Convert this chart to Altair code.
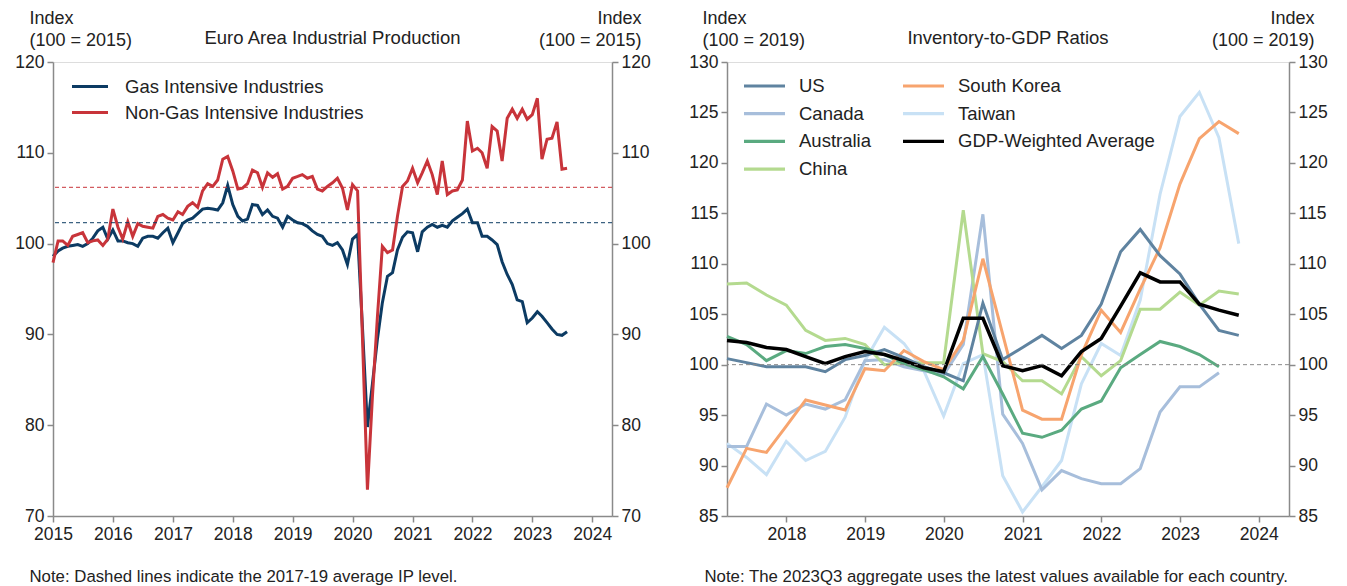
import altair as alt
import pandas as pd

FONT = "Liberation Sans"

# ---------------- Left panel data (monthly) ----------------
months = pd.date_range("2015-01-01", "2023-08-01", freq="MS")
GAS = "Gas Intensive Industries"
NONGAS = "Non-Gas Intensive Industries"
gas = [98.6, 99.2, 99.5, 99.7, 99.8, 99.9, 99.7, 100.0, 100.6, 101.4, 101.8, 100.5,
       101.5, 100.3, 100.3, 100.1, 100.0, 99.7, 100.6, 100.8, 100.8, 100.6, 101.2, 101.7,
       100.1, 101.2, 102.2, 102.6, 102.8, 103.3, 103.8, 103.9, 103.8, 103.7, 104.5, 106.4,
       104.3, 103.0, 102.5, 102.7, 104.3, 104.2, 103.2, 103.7, 103.0, 102.8, 101.8, 103.0,
       102.6, 102.3, 102.2, 101.9, 101.4, 101.0, 100.8, 100.0, 99.8, 100.1, 99.3, 97.7,
       100.5, 101.0, 91.0, 79.8, 84.5, 89.5, 93.5, 96.4, 96.8, 99.3, 100.7, 101.3,
       101.2, 99.1, 101.3, 101.8, 102.1, 101.8, 102.0, 101.8, 102.5, 102.9, 103.3, 103.8,
       102.3, 102.3, 100.8, 100.8, 100.4, 99.9, 98.0, 96.6, 95.5, 93.8, 93.6, 91.3,
       91.8, 92.5, 92.0, 91.3, 90.6, 90.0, 89.9, 90.3]
nongas = [97.9, 100.3, 100.3, 99.8, 100.8, 101.0, 101.2, 100.1, 100.3, 100.4, 99.8, 100.5,
          103.8, 101.8, 100.5, 102.4, 100.8, 102.2, 101.9, 101.8, 101.7, 103.0, 103.2, 102.8,
          102.6, 103.5, 103.2, 104.1, 104.5, 104.0, 105.8, 106.6, 106.3, 107.0, 109.3, 109.6,
          108.0, 106.0, 106.1, 106.6, 108.1, 107.8, 106.2, 107.8, 107.3, 107.7, 106.0, 106.3,
          107.2, 107.4, 107.6, 107.2, 107.4, 106.0, 105.8, 106.3, 106.7, 107.2, 106.1, 103.7,
          106.5, 105.8, 90.0, 72.9, 83.0, 92.0, 99.7, 99.0, 99.3, 103.0, 106.3, 106.9,
          108.3, 106.7, 107.8, 109.1, 107.6, 105.4, 109.1, 105.4, 105.8, 105.9, 107.0, 113.5,
          110.2, 110.5, 110.0, 108.3, 112.9, 112.4, 109.1, 113.8, 114.8, 113.8, 114.8, 113.7,
          114.2, 116.0, 109.3, 111.5, 111.6, 113.4, 108.2, 108.3]
avg_levels = [102.3, 106.2]  # 2017-19 averages (gas, non-gas)

# ---------------- Right panel data (quarterly) ----------------
qend = ["03-31", "06-30", "09-30", "12-31"]
quarters = [f"{y}-{q}" for y in range(2017, 2024) for q in qend][:27]
series_names = ["US", "Canada", "Australia", "China", "South Korea", "Taiwan",
                "GDP-Weighted Average"]
us = [100.6, 100.2, 99.8, 99.8, 99.8, 99.3, 100.5, 100.9, 101.5, 100.7, 99.8, 99.2, 98.4,
      106.1, 100.5, 101.7, 102.9, 101.6, 102.9, 106.0, 111.2, 113.4, 110.8, 109.0, 106.0,
      103.4, 102.9]
canada = [91.9, 91.9, 96.1, 95.0, 96.1, 95.6, 96.5, 100.4, 100.5, 99.8, 99.4, 99.0, 102.0,
          114.9, 95.1, 92.2, 87.6, 89.5, 88.7, 88.2, 88.2, 89.7, 95.3, 97.8, 97.8, 99.2]
australia = [102.8, 102.0, 100.4, 101.4, 101.1, 101.8, 102.0, 101.6, 101.0, 100.1, 99.5,
             98.8, 97.6, 100.8, 97.1, 93.2, 92.8, 93.5, 95.6, 96.4, 99.7, 101.0, 102.3,
             101.8, 101.0, 99.8]
china = [108.0, 108.1, 106.9, 105.9, 103.4, 102.4, 102.6, 102.0, 100.0, 100.2, 100.2, 100.2,
         115.3, 101.1, 100.3, 98.4, 98.4, 97.1, 100.8, 98.9, 100.4, 105.5, 105.5, 107.2,
         105.9, 107.3, 107.0]
korea = [87.8, 91.7, 91.3, 93.9, 96.5, 96.0, 95.5, 99.6, 99.4, 101.4, 100.3, 99.5, 102.4,
         110.5, 103.0, 95.5, 94.6, 94.6, 101.0, 105.4, 103.2, 107.5, 111.6, 117.9, 122.4,
         124.1, 122.9]
taiwan = [92.2, 90.8, 89.1, 92.4, 90.5, 91.4, 94.8, 100.4, 103.7, 102.1, 99.4, 94.9, 100.1,
          101.0, 89.0, 85.4, 87.9, 90.5, 98.1, 102.1, 100.9, 106.4, 116.9, 124.6, 127.0,
          122.5, 112.0]
gdp_avg = [102.4, 102.2, 101.7, 101.5, 100.8, 100.1, 100.8, 101.3, 101.0, 100.4, 99.7, 99.3,
           104.6, 104.6, 99.9, 99.4, 99.9, 98.9, 101.3, 102.6, 105.8, 109.1, 108.2, 108.2,
           106.0, 105.4, 104.9]

NAVY = "#0c3b63"
RED = "#c8343a"
right_colors = {"US": "#5f83a0", "South Korea": "#f7a46e", "Canada": "#a7bedb",
                "Taiwan": "#c8e1f5", "Australia": "#5aaa80",
                "GDP-Weighted Average": "#000000", "China": "#b4da8f"}

AX = dict(domainColor="#8a8a8a", domainWidth=1.5, tickColor="#8a8a8a", tickWidth=1.5,
          tickSize=6, labelFont=FONT, labelFontSize=17.5, labelColor="#222222", grid=False,
          labelPadding=3, labelFlush=False, titleFont=FONT,
          titleFontWeight="normal", titleColor="#222222", titleAngle=0, titleLineHeight=22)


def y_axis(orient, values, title, tx):
    return alt.Axis(orient=orient, values=values, title=title,
                    titleAlign=("left" if orient == "left" else "right"),
                    titleBaseline="top", titleX=tx, titleY=-53, titleFontSize=18, **AX)


def x_axis(years, note, tx):
    return alt.Axis(values=[alt.DateTime(year=y, month=1, date=1) for y in years], format="%Y",
                    title=note, titleAlign="left", titleAnchor="start", titleBaseline="top",
                    titleX=tx, titleY=52, titleFontSize=16.8, **AX)


def legend(x, y, size, offset, rowpad, **extra):
    return alt.Legend(orient="none", legendX=x, legendY=y, title=None, symbolType="stroke",
                      symbolSize=size * size, symbolStrokeWidth=3.2, labelFont=FONT,
                      labelFontSize=18.5, labelColor="#222222", labelOffset=offset,
                      labelLimit=500, clipHeight=20, rowPadding=rowpad, padding=0, **extra)


# ---------------- Left panel ----------------
ldf = pd.DataFrame({
    "date": list(months) + list(months),
    "value": gas + nongas,
    "series": [GAS] * len(gas) + [NONGAS] * len(nongas),
})
lrules = pd.DataFrame({"value": avg_levels, "color": [NAVY, RED]})

lx = alt.X("date:T", scale=alt.Scale(domain=[alt.DateTime(year=2015, month=1, date=1),
                                             alt.DateTime(year=2024, month=5, date=1)]),
           axis=x_axis(range(2015, 2025), "Note: Dashed lines indicate the 2017-19 average IP level.", -24))
lscale = alt.Scale(domain=[70, 120], nice=False, zero=False)

left_lines = alt.Chart(ldf).mark_line(strokeWidth=3).encode(
    x=lx,
    y=alt.Y("value:Q", scale=lscale,
            axis=y_axis("left", list(range(70, 121, 10)), ["Index", "(100 = 2015)"], -24)),
    color=alt.Color("series:N", scale=alt.Scale(domain=[GAS, NONGAS], range=[NAVY, RED]),
                    legend=legend(17, 14.5, 36, 15, 6)),
)
left_rules = alt.Chart(lrules).mark_rule(strokeWidth=1, strokeDash=[4, 3]).encode(
    y=alt.Y("value:Q", scale=lscale,
            axis=y_axis("right", list(range(70, 121, 10)), ["Index", "(100 = 2015)"], 29)),
    color=alt.Color("color:N", scale=None, legend=None),
)
left = alt.layer(left_lines, left_rules).resolve_scale(y="independent", color="independent").properties(
    width=559, height=454,
    title=alt.TitleParams("Euro Area Industrial Production", font=FONT, fontSize=18.5,
                          fontWeight="normal", color="#222222", anchor="middle", offset=-38),
)

# ---------------- Right panel ----------------
rows = []
for name, vals in [("Taiwan", taiwan), ("Canada", canada), ("China", china), ("Australia", australia),
                   ("South Korea", korea), ("US", us), ("GDP-Weighted Average", gdp_avg)]:
    for q, v in zip(quarters, vals):
        rows.append({"date": q, "value": v, "series": name})
rdf = pd.DataFrame(rows)
rrule = pd.DataFrame({"value": [100]})

rx = alt.X("date:T", scale=alt.Scale(domain=[alt.DateTime(year=2017, month=3, date=31),
                                             alt.DateTime(year=2024, month=5, date=20)]),
           axis=x_axis(range(2018, 2025),
                       "Note: The 2023Q3 aggregate uses the latest values available for each country.", -23))
rscale = alt.Scale(domain=[85, 130], nice=False, zero=False)
rcolor = alt.Color("series:N",
                   scale=alt.Scale(domain=series_names, range=[right_colors[s] for s in series_names]),
                   legend=legend(15, 14, 41, 12, 7.7, columns=2, columnPadding=30))
ry_left = alt.Y("value:Q", scale=rscale,
                axis=y_axis("left", list(range(85, 131, 5)), ["Index", "(100 = 2019)"], -25))

right_lines = alt.Chart(rdf[rdf.series != "GDP-Weighted Average"]).mark_line(strokeWidth=3).encode(
    x=rx, y=ry_left, color=rcolor)
right_black = alt.Chart(rdf[rdf.series == "GDP-Weighted Average"]).mark_line(strokeWidth=3.5).encode(
    x=rx, y=ry_left, color=rcolor)
right_rule = alt.Chart(rrule).mark_rule(strokeWidth=1, strokeDash=[4, 3], color="#8a8a8a").encode(
    y=alt.Y("value:Q", scale=rscale,
            axis=y_axis("right", list(range(85, 131, 5)), ["Index", "(100 = 2019)"], 25)))

right = alt.layer(alt.layer(right_lines, right_black), right_rule).resolve_scale(y="independent").properties(
    width=562, height=454,
    title=alt.TitleParams("Inventory-to-GDP Ratios", font=FONT, fontSize=18.5,
                          fontWeight="normal", color="#222222", anchor="middle", offset=-38),
)

chart = alt.hconcat(left, right, spacing=37).resolve_scale(color="independent").resolve_legend(
    color="independent"
).properties(
    padding={"left": 6, "top": 0, "right": 5, "bottom": 0}
).configure_view(stroke=None).configure(background="white")

chart.save("out.html", embed_options={"renderer": "svg", "actions": False})
